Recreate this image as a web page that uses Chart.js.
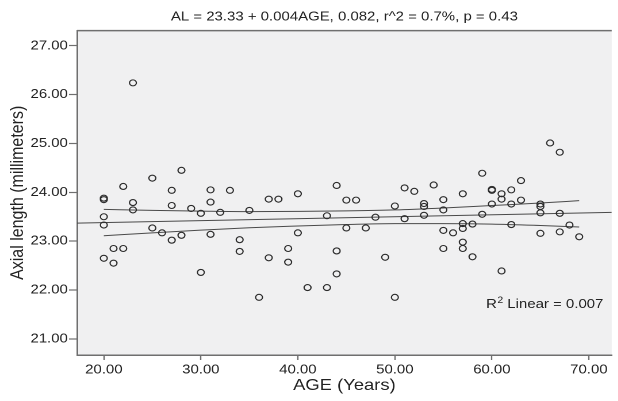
<!DOCTYPE html>
<html>
<head>
<meta charset="utf-8">
<script src="https://cdn.jsdelivr.net/npm/chart.js@4.4.1/dist/chart.umd.min.js"></script>
<style>
    html, body { margin: 0; padding: 0; background: #fff; overflow: hidden; }
    /* the reference picture is stretched sideways, so the chart is too */
    #wrap { width: 537px; height: 401px; transform: scaleX(1.15); transform-origin: 0 0; }
</style>
</head>
<body>
<div id="wrap"><canvas id="alChart" width="537" height="401"></canvas></div>
<script>
// scatter: age (years) and axial length (mm)
const ages = [20, 20, 20, 20, 20, 21, 21, 22, 22, 23, 23, 23, 25, 25, 26, 27, 27, 27, 28, 28,
    29, 30, 30, 31, 31, 31, 32, 33, 34, 34, 35, 36, 37, 37, 38, 39, 39, 40, 40, 41,
    43, 43, 44, 44, 44, 45, 45, 46, 47, 48, 49, 50, 50, 51, 51, 52, 53, 53, 53, 54,
    55, 55, 55, 55, 56, 57, 57, 57, 57, 57, 58, 58, 59, 59, 60, 60, 60, 61, 61, 61,
    62, 62, 62, 63, 63, 65, 65, 65, 65, 66, 67, 67, 67, 68, 69];
const axialLength = [23.88, 23.85, 23.50, 23.33, 22.65, 22.85, 22.55, 24.12, 22.85, 26.24, 23.79, 23.64, 24.29, 23.27, 23.17, 24.04, 23.73, 23.02, 24.45, 23.12,
    23.67, 23.57, 22.36, 24.05, 23.80, 23.14, 23.59, 24.04, 23.03, 22.79, 23.63, 21.85, 23.86, 22.66, 23.86, 22.85, 22.57, 23.97, 23.17, 22.05,
    23.52, 22.05, 24.14, 22.80, 22.33, 23.84, 23.27, 23.84, 23.27, 23.49, 22.67, 23.72, 21.85, 24.09, 23.46, 24.02, 23.77, 23.71, 23.53, 24.15,
    23.85, 23.64, 23.22, 22.85, 23.17, 23.97, 23.36, 23.26, 22.98, 22.85, 23.35, 22.68, 24.39, 23.55, 24.06, 24.04, 23.76, 23.97, 23.86, 22.39,
    24.05, 23.76, 23.34, 24.24, 23.84, 23.76, 23.71, 23.58, 23.16, 25.01, 24.82, 23.57, 23.19, 23.33, 23.09];

// fit line and its confidence curves
const fitAges = [17.24, 72.35];
const fitAL = [23.37, 23.59];
const ciAges = [20, 25, 30, 35, 40, 45, 50, 55, 60, 65, 69];
const ciUpper = [23.65, 23.63, 23.615, 23.605, 23.61, 23.62, 23.64, 23.68, 23.73, 23.78, 23.83];
const ciLower = [23.11, 23.17, 23.225, 23.275, 23.31, 23.34, 23.36, 23.36, 23.35, 23.32, 23.29];

const xTicks = [20, 30, 40, 50, 60, 70];
const yTicks = [21, 22, 23, 24, 25, 26, 27];
const xRange = [17.24, 72.35];
const yRange = [20.67, 27.31];

const chartTitle = 'AL = 23.33 + 0.004AGE, 0.082, r^2 = 0.7%, p = 0.43';
const r2Text = ['R', '2', ' Linear = 0.007'];
const r2Pos = [59.4, 21.63];

const FONT = '"Liberation Sans", Arial, Helvetica, sans-serif';
const INK = '#222';
const AXIS = '#6f6f6f';

Chart.defaults.font.family = FONT;
Chart.defaults.color = INK;

const toXY = (xs, ys) => xs.map((x, i) => ({ x: x, y: ys[i] }));

const plotDecor = {
    id: 'plotDecor',
    beforeDraw(chart) {
        const { ctx, chartArea: a } = chart;
        ctx.save();
        ctx.fillStyle = '#f0f0f1';
        ctx.fillRect(a.left, a.top, a.right - a.left, a.bottom - a.top);
        ctx.restore();
    },
    afterDraw(chart) {
        const { ctx, chartArea: a, scales } = chart;
        ctx.save();
        // top frame line
        ctx.strokeStyle = AXIS;
        ctx.lineWidth = 1.5;
        ctx.beginPath();
        ctx.moveTo(a.left, a.top);
        ctx.lineTo(a.right, a.top);
        ctx.stroke();

        // R² Linear label
        let x = scales.x.getPixelForValue(r2Pos[0]);
        const y = scales.y.getPixelForValue(r2Pos[1]);
        ctx.fillStyle = INK;
        ctx.textBaseline = 'alphabetic';
        ctx.textAlign = 'left';
        ctx.font = '13px ' + FONT;
        ctx.fillText(r2Text[0], x, y);
        x += ctx.measureText(r2Text[0]).width + 0.5;
        ctx.font = '9px ' + FONT;
        ctx.fillText(r2Text[1], x, y - 5);
        x += ctx.measureText(r2Text[1]).width;
        ctx.font = '13px ' + FONT;
        ctx.fillText(r2Text[2], x, y);
        ctx.restore();
    }
};

const lineStyle = {
    type: 'line',
    borderColor: '#4a4a4a',
    borderWidth: 1,
    pointRadius: 0,
    fill: false
};

new Chart(document.getElementById('alChart'), {
    type: 'scatter',
    data: {
        datasets: [{
            label: 'Axial length',
            data: toXY(ages, axialLength),
            pointStyle: 'circle',
            pointRadius: 3,
            borderColor: '#2b2b2b',
            borderWidth: 1.1,
            backgroundColor: 'rgba(0,0,0,0)',
            order: 0
        }, {
            ...lineStyle,
            label: 'Fit',
            data: toXY(fitAges, fitAL),
            order: 1
        }, {
            ...lineStyle,
            label: 'Upper',
            data: toXY(ciAges, ciUpper),
            cubicInterpolationMode: 'monotone',
            order: 1
        }, {
            ...lineStyle,
            label: 'Lower',
            data: toXY(ciAges, ciLower),
            cubicInterpolationMode: 'monotone',
            order: 1
        }]
    },
    options: {
        responsive: false,
        animation: false,
        devicePixelRatio: 2,
        layout: { padding: 0 },
        plugins: {
            legend: { display: false },
            tooltip: { enabled: false },
            title: {
                display: true,
                text: chartTitle,
                fullSize: false,
                color: INK,
                font: { size: 13, weight: 'normal' },
                padding: { top: 9, bottom: 6 }
            }
        },
        scales: {
            x: {
                type: 'linear',
                position: 'bottom',
                min: xRange[0],
                max: xRange[1],
                afterBuildTicks: s => { s.ticks = xTicks.map(v => ({ value: v })); },
                afterFit: s => { s.height = 46; },
                ticks: {
                    color: INK,
                    font: { size: 13 },
                    padding: 2,
                    maxRotation: 0,
                    callback: v => v.toFixed(2)
                },
                grid: { drawOnChartArea: false, drawTicks: true, tickLength: 5, tickColor: AXIS, tickWidth: 1.2 },
                border: { display: true, color: AXIS, width: 1.5 },
                title: {
                    display: true,
                    text: 'AGE (Years)',
                    color: INK,
                    font: { size: 16 },
                    padding: { top: 0, bottom: 6 }
                }
            },
            y: {
                type: 'linear',
                min: yRange[0],
                max: yRange[1],
                afterBuildTicks: s => { s.ticks = yTicks.map(v => ({ value: v })); },
                afterFit: s => { s.width = 67; },
                ticks: {
                    color: INK,
                    font: { size: 13 },
                    padding: 1,
                    callback: v => v.toFixed(2)
                },
                grid: { drawOnChartArea: false, drawTicks: true, tickLength: 7, tickColor: AXIS, tickWidth: 1.2 },
                border: { display: true, color: AXIS, width: 1.5 },
                title: {
                    display: true,
                    text: 'Axial length (millimeters)',
                    color: INK,
                    font: { size: 16 },
                    padding: { top: 6, bottom: 0 }
                }
            }
        }
    },
    plugins: [plotDecor]
});
</script>
</body>
</html>
